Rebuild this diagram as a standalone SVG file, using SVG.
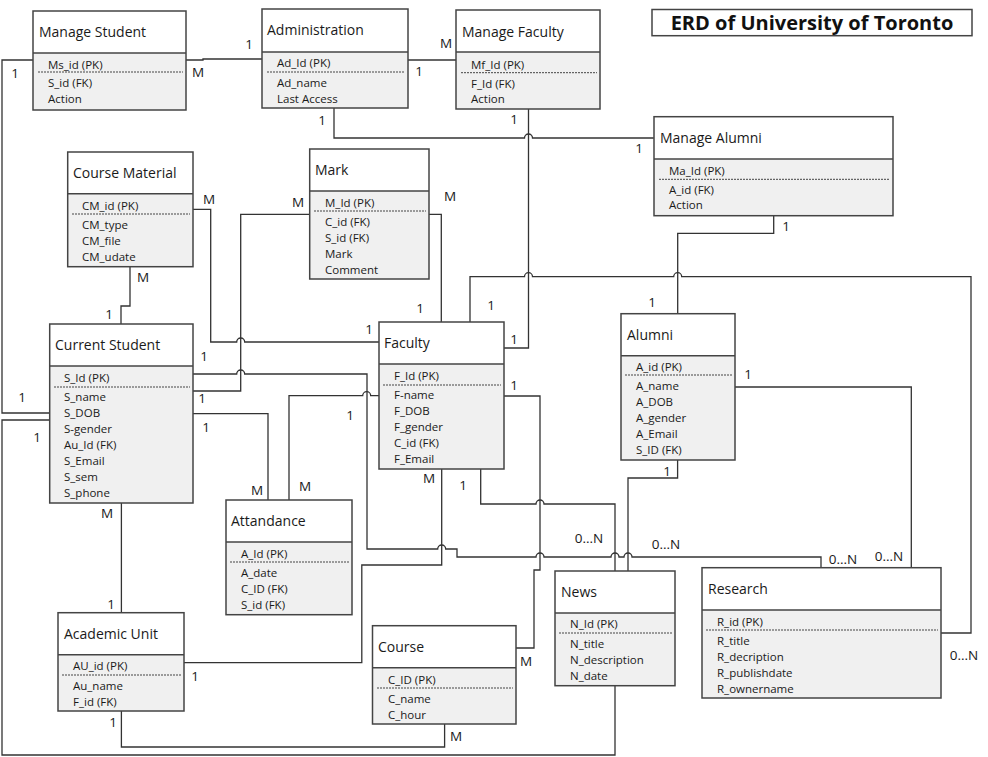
<svg xmlns="http://www.w3.org/2000/svg" width="988" height="757" viewBox="0 0 988 757">
<style>
.hdr{fill:#ffffff;stroke:none}
.bd{fill:#f0f0f0;stroke:none}
.frame{fill:none;stroke:#444;stroke-width:1.5}
.div{stroke:#444;stroke-width:1.5}
.dot{stroke:#444;stroke-width:1;stroke-dasharray:2,1}
.t{font-family:"Open Sans","Noto Sans",sans-serif;font-size:14px;fill:#1a1a1a}
.a{font-family:"Open Sans","Noto Sans",sans-serif;font-size:11.5px;fill:#1a1a1a}
.c{font-family:"Open Sans","Noto Sans",sans-serif;font-size:13.5px;fill:#1a1a1a;text-anchor:middle}
.ln{fill:none;stroke:#333;stroke-width:1.3}
.ttl{font-family:"Open Sans","Noto Sans",sans-serif;font-size:20px;font-weight:bold;fill:#111;text-anchor:middle}
</style>
<rect width="988" height="757" fill="#ffffff"/>

<g id="connectors">
<path class="ln" d="M186,60 H203 V59 H262"/>
<path class="ln" d="M33,60 H2 V413 H49.7"/>
<path class="ln" d="M49.7,420 H2 V755 H615 V685.7"/>
<path class="ln" d="M334,108 V138 H524.5 a4,4 0 0 1 8,0 H653.8"/>
<path class="ln" d="M408,60 H456"/>
<path class="ln" d="M528.5,109 V348 H504"/>
<path class="ln" d="M470,322 V276.7 H524.5 a4,4 0 0 1 8,0 H673.7 a4,4 0 0 1 8,0 H971 V633 H941"/>
<path class="ln" d="M773.7,215.7 V233.3 H677.7 V313.7"/>
<path class="ln" d="M735,387 H911.3 V567.7"/>
<path class="ln" d="M677.6,460 V478 H628 V571"/>
<path class="ln" d="M504,396 H540 V570 H534 V648 H516"/>
<path class="ln" d="M480.7,469 V504 H536 a4,4 0 0 1 8,0 H615 V571"/>
<path class="ln" d="M441.7,469 V565 H361.8 V662.7 H184"/>
<path class="ln" d="M193,374 H236.7 a4,4 0 0 1 8,0 H367 V549 H437.7 a4,4 0 0 1 8,0 H457 V557 H536 a4,4 0 0 1 8,0 H611 a4,4 0 0 1 8,0 H624 a4,4 0 0 1 8,0 H821 V567.7"/>
<path class="ln" d="M309.7,214.3 H240.7 V391 H193"/>
<path class="ln" d="M193,209.3 H210.7 V342 H236.7 a4,4 0 0 1 8,0 H379"/>
<path class="ln" d="M130,266.7 V306 H121 V324"/>
<path class="ln" d="M429,214.3 H441.3 V322"/>
<path class="ln" d="M193,413.7 H268 V500"/>
<path class="ln" d="M379,395.7 H370.7 a4,4 0 0 0 -8,0 H289 V500"/>
<path class="ln" d="M121.4,503 V612.7"/>
<path class="ln" d="M121.4,711 V747 H444.6 V724"/>
</g>

<g id="cardinalities">
<text class="c" x="249" y="49">1</text>
<text class="c" x="198" y="77">M</text>
<text class="c" x="15" y="78">1</text>
<text class="c" x="322" y="125">1</text>
<text class="c" x="419" y="76">1</text>
<text class="c" x="446" y="48">M</text>
<text class="c" x="514" y="124">1</text>
<text class="c" x="639" y="153">1</text>
<text class="c" x="786" y="231">1</text>
<text class="c" x="209" y="204">M</text>
<text class="c" x="143" y="282">M</text>
<text class="c" x="109" y="319">1</text>
<text class="c" x="298" y="207">M</text>
<text class="c" x="450" y="201">M</text>
<text class="c" x="420" y="313">1</text>
<text class="c" x="369" y="334">1</text>
<text class="c" x="491" y="310">1</text>
<text class="c" x="514" y="344">1</text>
<text class="c" x="514" y="390">1</text>
<text class="c" x="652" y="307">1</text>
<text class="c" x="748" y="379">1</text>
<text class="c" x="22" y="402">1</text>
<text class="c" x="37" y="442">1</text>
<text class="c" x="204" y="361">1</text>
<text class="c" x="202" y="403">1</text>
<text class="c" x="206" y="432">1</text>
<text class="c" x="350" y="420">1</text>
<text class="c" x="257" y="495">M</text>
<text class="c" x="305" y="491">M</text>
<text class="c" x="429" y="483">M</text>
<text class="c" x="463" y="490">1</text>
<text class="c" x="667" y="476">1</text>
<text class="c" x="589" y="543">0...N</text>
<text class="c" x="666" y="549">0...N</text>
<text class="c" x="843" y="564">0...N</text>
<text class="c" x="889" y="561">0...N</text>
<text class="c" x="964" y="660">0...N</text>
<text class="c" x="107" y="518">M</text>
<text class="c" x="111" y="609">1</text>
<text class="c" x="195" y="681">1</text>
<text class="c" x="113" y="727">1</text>
<text class="c" x="456" y="741">M</text>
<text class="c" x="526" y="666">M</text>
</g>

<g id="title">
<rect x="652" y="9.5" width="320" height="26.2" fill="#fff" stroke="#444" stroke-width="1.5"/>
<text class="ttl" x="812" y="30">ERD of University of Toronto</text>
</g>

<g id="manage-student">
<rect class="hdr" x="33" y="11" width="153" height="42"/>
<rect class="bd" x="33" y="53" width="153" height="57"/>
<rect class="frame" x="33" y="11" width="153" height="99"/>
<line class="div" x1="33" y1="53" x2="186" y2="53"/>
<line class="dot" x1="38" y1="72" x2="183" y2="72"/>
<text class="t" x="39" y="37">Manage Student</text>
<text class="a" x="48" y="68.5">Ms_id (PK)</text>
<text class="a" x="48" y="87">S_id (FK)</text>
<text class="a" x="48" y="103">Action</text>
</g>

<g id="administration">
<rect class="hdr" x="262" y="9" width="146" height="43"/>
<rect class="bd" x="262" y="52" width="146" height="56"/>
<rect class="frame" x="262" y="9" width="146" height="99"/>
<line class="div" x1="262" y1="52" x2="408" y2="52"/>
<line class="dot" x1="267" y1="72" x2="405" y2="72"/>
<text class="t" x="267" y="35">Administration</text>
<text class="a" x="277" y="66.5">Ad_Id (PK)</text>
<text class="a" x="277" y="86.5">Ad_name</text>
<text class="a" x="277" y="102.5">Last Access</text>
</g>

<g id="manage-faculty">
<rect class="hdr" x="456" y="10" width="144" height="42"/>
<rect class="bd" x="456" y="52" width="144" height="57"/>
<rect class="frame" x="456" y="10" width="144" height="99"/>
<line class="div" x1="456" y1="52" x2="600" y2="52"/>
<line class="dot" x1="461" y1="72.7" x2="597" y2="72.7"/>
<text class="t" x="462" y="37">Manage Faculty</text>
<text class="a" x="471" y="68.5">Mf_Id (PK)</text>
<text class="a" x="471" y="87.5">F_Id (FK)</text>
<text class="a" x="471" y="102.5">Action</text>
</g>

<g id="manage-alumni">
<rect class="hdr" x="654" y="116.7" width="239" height="42.3"/>
<rect class="bd" x="654" y="159" width="239" height="56.7"/>
<rect class="frame" x="654" y="116.7" width="239" height="99"/>
<line class="div" x1="654" y1="159" x2="893" y2="159"/>
<line class="dot" x1="659" y1="179.3" x2="890" y2="179.3"/>
<text class="t" x="660" y="142.7">Manage Alumni</text>
<text class="a" x="669" y="175.2">Ma_Id (PK)</text>
<text class="a" x="669" y="194.2">A_id (FK)</text>
<text class="a" x="669" y="209.2">Action</text>
</g>

<g id="course-material">
<rect class="hdr" x="67.7" y="152" width="125.3" height="41.7"/>
<rect class="bd" x="67.7" y="193.7" width="125.3" height="73"/>
<rect class="frame" x="67.7" y="152" width="125.3" height="114.7"/>
<line class="div" x1="67.7" y1="193.7" x2="193" y2="193.7"/>
<line class="dot" x1="72" y1="214" x2="190" y2="214"/>
<text class="t" x="73" y="178">Course Material</text>
<text class="a" x="82" y="209.5">CM_id (PK)</text>
<text class="a" x="82" y="228.5">CM_type</text>
<text class="a" x="82" y="244.5">CM_file</text>
<text class="a" x="82" y="260.5">CM_udate</text>
</g>

<g id="mark">
<rect class="hdr" x="309.7" y="149" width="119.3" height="42"/>
<rect class="bd" x="309.7" y="191" width="119.3" height="88"/>
<rect class="frame" x="309.7" y="149" width="119.3" height="130"/>
<line class="div" x1="309.7" y1="191" x2="429" y2="191"/>
<line class="dot" x1="314" y1="211" x2="426" y2="211"/>
<text class="t" x="315" y="175">Mark</text>
<text class="a" x="325" y="206.5">M_Id (PK)</text>
<text class="a" x="325" y="225.5">C_id (FK)</text>
<text class="a" x="325" y="241.5">S_id (FK)</text>
<text class="a" x="325" y="257.5">Mark</text>
<text class="a" x="325" y="273.5">Comment</text>
</g>

<g id="current-student">
<rect class="hdr" x="49.7" y="324" width="143.3" height="42"/>
<rect class="bd" x="49.7" y="366" width="143.3" height="137"/>
<rect class="frame" x="49.7" y="324" width="143.3" height="179"/>
<line class="div" x1="49.7" y1="366" x2="193" y2="366"/>
<line class="dot" x1="54" y1="387" x2="190" y2="387"/>
<text class="t" x="55" y="350">Current Student</text>
<text class="a" x="64" y="381.5">S_Id (PK)</text>
<text class="a" x="64" y="400.5">S_name</text>
<text class="a" x="64" y="416.5">S_DOB</text>
<text class="a" x="64" y="432.5">S-gender</text>
<text class="a" x="64" y="448.5">Au_Id (FK)</text>
<text class="a" x="64" y="464.5">S_Email</text>
<text class="a" x="64" y="480.5">S_sem</text>
<text class="a" x="64" y="496.5">S_phone</text>
</g>

<g id="faculty">
<rect class="hdr" x="379" y="322" width="125" height="42"/>
<rect class="bd" x="379" y="364" width="125" height="105"/>
<rect class="frame" x="379" y="322" width="125" height="147"/>
<line class="div" x1="379" y1="364" x2="504" y2="364"/>
<line class="dot" x1="383" y1="385" x2="501" y2="385"/>
<text class="t" x="384" y="348">Faculty</text>
<text class="a" x="394" y="379.5">F_Id (PK)</text>
<text class="a" x="394" y="398.5">F-name</text>
<text class="a" x="394" y="414.5">F_DOB</text>
<text class="a" x="394" y="430.5">F_gender</text>
<text class="a" x="394" y="446.5">C_id (FK)</text>
<text class="a" x="394" y="462.5">F_Email</text>
</g>

<g id="alumni">
<rect class="hdr" x="621" y="313.7" width="114" height="42"/>
<rect class="bd" x="621" y="355.7" width="114" height="104.3"/>
<rect class="frame" x="621" y="313.7" width="114" height="146.3"/>
<line class="div" x1="621" y1="355.7" x2="735" y2="355.7"/>
<line class="dot" x1="625" y1="375" x2="732" y2="375"/>
<text class="t" x="627" y="340">Alumni</text>
<text class="a" x="636" y="371">A_id (PK)</text>
<text class="a" x="636" y="389.5">A_name</text>
<text class="a" x="636" y="405.5">A_DOB</text>
<text class="a" x="636" y="421.5">A_gender</text>
<text class="a" x="636" y="437.5">A_Email</text>
<text class="a" x="636" y="453.5">S_ID (FK)</text>
</g>

<g id="attandance">
<rect class="hdr" x="226" y="500" width="126" height="42"/>
<rect class="bd" x="226" y="542" width="126" height="72.7"/>
<rect class="frame" x="226" y="500" width="126" height="114.7"/>
<line class="div" x1="226" y1="542" x2="352" y2="542"/>
<line class="dot" x1="230" y1="562" x2="349" y2="562"/>
<text class="t" x="231" y="526">Attandance</text>
<text class="a" x="241" y="557.5">A_Id (PK)</text>
<text class="a" x="241" y="576.5">A_date</text>
<text class="a" x="241" y="592.5">C_ID (FK)</text>
<text class="a" x="241" y="608.5">S_id (FK)</text>
</g>

<g id="academic-unit">
<rect class="hdr" x="58" y="612.7" width="126" height="42"/>
<rect class="bd" x="58" y="654.7" width="126" height="56.3"/>
<rect class="frame" x="58" y="612.7" width="126" height="98.3"/>
<line class="div" x1="58" y1="654.7" x2="184" y2="654.7"/>
<line class="dot" x1="62" y1="675" x2="181" y2="675"/>
<text class="t" x="64" y="639">Academic Unit</text>
<text class="a" x="73" y="670">AU_id (PK)</text>
<text class="a" x="73" y="689.5">Au_name</text>
<text class="a" x="73" y="705.5">F_id (FK)</text>
</g>

<g id="course">
<rect class="hdr" x="372.5" y="625.7" width="143.5" height="42"/>
<rect class="bd" x="372.5" y="667.7" width="143.5" height="56.3"/>
<rect class="frame" x="372.5" y="625.7" width="143.5" height="98.3"/>
<line class="div" x1="372.5" y1="667.7" x2="516" y2="667.7"/>
<line class="dot" x1="377" y1="688" x2="513" y2="688"/>
<text class="t" x="378" y="652">Course</text>
<text class="a" x="388" y="683.5">C_ID (PK)</text>
<text class="a" x="388" y="702.5">C_name</text>
<text class="a" x="388" y="718.5">C_hour</text>
</g>

<g id="news">
<rect class="hdr" x="555" y="571" width="120" height="42"/>
<rect class="bd" x="555" y="613" width="120" height="72.7"/>
<rect class="frame" x="555" y="571" width="120" height="114.7"/>
<line class="div" x1="555" y1="613" x2="675" y2="613"/>
<line class="dot" x1="559" y1="633" x2="672" y2="633"/>
<text class="t" x="561" y="597">News</text>
<text class="a" x="570" y="628">N_Id (PK)</text>
<text class="a" x="570" y="647.5">N_title</text>
<text class="a" x="570" y="663.5">N_description</text>
<text class="a" x="570" y="679.5">N_date</text>
</g>

<g id="research">
<rect class="hdr" x="702" y="567.7" width="239" height="42.3"/>
<rect class="bd" x="702" y="610" width="239" height="88"/>
<rect class="frame" x="702" y="567.7" width="239" height="130.3"/>
<line class="div" x1="702" y1="610" x2="941" y2="610"/>
<line class="dot" x1="706" y1="630" x2="938" y2="630"/>
<text class="t" x="708" y="594">Research</text>
<text class="a" x="717" y="625.5">R_id (PK)</text>
<text class="a" x="717" y="644.5">R_title</text>
<text class="a" x="717" y="660.5">R_decription</text>
<text class="a" x="717" y="676.5">R_publishdate</text>
<text class="a" x="717" y="692.5">R_ownername</text>
</g>
</svg>
